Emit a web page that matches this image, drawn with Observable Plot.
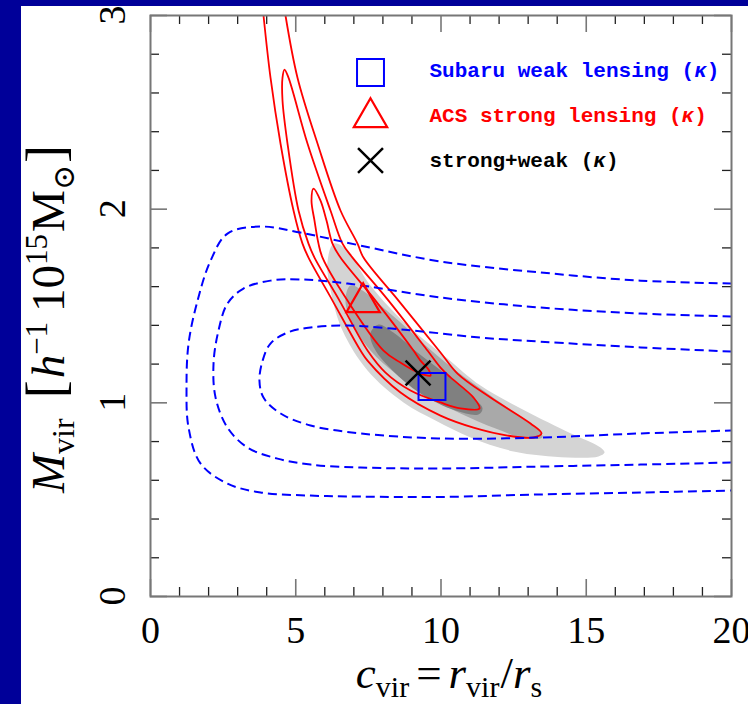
<!DOCTYPE html>
<html>
<head>
<meta charset="utf-8">
<script src="https://cdn.jsdelivr.net/npm/d3@7"></script>
<script src="https://cdn.jsdelivr.net/npm/@observablehq/plot@0.6"></script>
<style>
  html, body { margin: 0; padding: 0; background: #000099; }
  body { width: 748px; height: 704px; overflow: hidden; position: relative; }
  #chart { position: absolute; left: 21px; top: 6px; width: 727px; height: 698px; background: #fff; overflow: hidden; }
  #chart svg { display: block; overflow: hidden; }
</style>
</head>
<body>
<div id="chart"></div>
<script>
// Concentration c_vir vs. virial mass M_vir (h^-1 10^15 M_sun) constraints.

// Axis ticks
const xTicksMajor = [0, 5, 10, 15, 20];
const xTicksMinor = [1, 2, 3, 4, 6, 7, 8, 9, 11, 12, 13, 14, 16, 17, 18, 19];
const yTicksMajor = [0, 1, 2, 3];
const yTicksMinor = [0.2, 0.4, 0.6, 0.8, 1.2, 1.4, 1.6, 1.8, 2.2, 2.4, 2.6, 2.8];

// Joint strong+weak confidence regions (filled), [c_vir, M_vir]
const jointOuter = [[6.30,1.822],[6.71,1.797],[7.57,1.606],[8.85,1.399],[10.22,1.229],[11.36,1.089],[13.08,0.945],[14.63,0.831],[15.49,0.769],[15.63,0.743],[15.42,0.723],[14.35,0.718],[12.50,0.749],[11.02,0.821],[9.81,0.909],[8.71,1.002],[7.47,1.167],[6.61,1.373],[6.20,1.580],[6.09,1.724]];
const jointMiddle = [[6.88,1.606],[7.30,1.580],[7.92,1.502],[8.61,1.415],[9.47,1.296],[10.50,1.167],[11.70,1.038],[12.91,0.909],[13.43,0.847],[13.49,0.821],[12.91,0.816],[11.88,0.867],[10.67,0.945],[9.47,1.038],[8.43,1.151],[7.57,1.270],[6.95,1.409],[6.71,1.528]];
const jointInner = [[7.85,1.404],[8.36,1.363],[9.19,1.260],[10.09,1.156],[11.02,1.038],[11.43,0.971],[11.29,0.940],[10.50,0.960],[9.29,1.048],[8.33,1.167],[7.71,1.280],[7.57,1.358]];

// ACS strong lensing contours (solid red)
const strongOuter = [[3.890,3.0],[4.131,2.679],[4.475,2.339],[4.923,1.993],[5.232,1.822],[5.439,1.750],[6.265,1.528],[7.229,1.270],[7.470,1.218],[8.606,1.053],[9.983,0.934],[11.119,0.872],[12.289,0.831],[13.184,0.821],[13.460,0.842],[13.081,0.893],[11.704,1.027],[10.568,1.151],[9.983,1.260],[8.537,1.528],[7.332,1.750],[7.126,1.822],[6.540,1.993],[5.749,2.339],[5.060,2.679],[4.647,3.0]];
const strongMiddle = [[4.613,2.721],[4.544,2.679],[4.544,2.561],[4.716,2.339],[5.095,1.993],[5.439,1.822],[5.645,1.750],[6.506,1.528],[7.470,1.270],[8.090,1.156],[8.950,1.064],[9.983,1.002],[10.671,0.971],[11.325,0.971],[11.119,1.027],[10.327,1.131],[9.983,1.182],[9.535,1.270],[8.193,1.528],[6.954,1.750],[6.609,1.822],[6.196,1.993],[5.404,2.339],[4.750,2.679]];
const strongInner = [[5.611,2.106],[5.542,2.044],[5.645,1.941],[5.783,1.822],[5.921,1.750],[6.781,1.528],[8.021,1.270],[8.606,1.208],[9.225,1.156],[9.639,1.141],[9.570,1.172],[9.294,1.218],[9.053,1.270],[7.745,1.528],[6.540,1.750],[6.265,1.822],[6.059,1.941],[5.852,2.044]];

// Subaru weak lensing contours (dashed blue)
const weakOuter = [[20,1.616],[16.87,1.631],[13.43,1.673],[9.98,1.730],[7.23,1.812],[5.16,1.879],[3.79,1.910],[2.65,1.874],[2.07,1.735],[1.62,1.528],[1.31,1.306],[1.24,1.079],[1.31,0.872],[1.72,0.687],[2.65,0.583],[3.79,0.537],[5.51,0.521],[7.23,0.516],[9.98,0.514],[13.43,0.527],[16.87,0.537],[20,0.547]];
const weakMiddle = [[20,1.446],[16.87,1.461],[13.43,1.492],[9.98,1.544],[6.78,1.616],[5.16,1.637],[4.13,1.631],[3.20,1.590],[2.65,1.513],[2.34,1.373],[2.17,1.203],[2.24,1.027],[2.65,0.872],[3.34,0.769],[4.37,0.712],[5.51,0.681],[7.23,0.666],[9.98,0.661],[13.43,0.671],[16.87,0.681],[20,0.692]];
const weakInner = [[20,1.265],[16.87,1.286],[13.43,1.316],[11.36,1.337],[9.05,1.373],[6.78,1.399],[5.51,1.389],[4.72,1.363],[4.13,1.306],[3.86,1.218],[3.75,1.115],[3.89,1.027],[4.48,0.945],[5.51,0.883],[7.23,0.842],[9.98,0.816],[13.43,0.821],[16.87,0.842],[20,0.857]];

// Best-fit values per method
const methodLabels = ["Subaru weak lensing (κ)", "ACS strong lensing (κ)", "strong+weak (κ)"];
const bestFitC = [9.69, 7.32, 9.21];
const bestFitM = [1.084, 1.518, 1.154];

// Layout and styles
const W = 727, H = 698, mL = 129, mR = 17, mT = 9, mB = 108;
const innerW = W - mL - mR, innerH = H - mT - mB;
const serif = "'Liberation Serif', 'Times New Roman', serif";
const mono = "'Liberation Mono', 'Courier New', monospace";
const methodStyle = [
  {symbol: "square", color: "#0000ff", r: 15.2, sw: 2},
  {symbol: "triangle", color: "#ff0000", r: 12.4, sw: 2.2},
  {symbol: "times", color: "#000000", r: 11.4, sw: 2.5}
];
const legendSymbolDy = [57, 102, 145];
const legendTextDy = [55, 100, 145];

const cx = d => d[0], my = d => d[1];
const dashed = {stroke: "#0000ff", strokeWidth: 2, strokeDasharray: "9,5", strokeLinecap: "butt", curve: "catmull-rom", clip: true};
const solid = {stroke: "#ff0000", strokeWidth: 1.8, clip: true};

const marks = [
  Plot.line(jointOuter, {x: cx, y: my, fill: "#d4d4d4", stroke: "none", curve: "catmull-rom-closed"}),
  Plot.line(jointMiddle, {x: cx, y: my, fill: "#a9a9a9", stroke: "none", curve: "catmull-rom-closed"}),
  Plot.line(jointInner, {x: cx, y: my, fill: "#808080", stroke: "none", curve: "catmull-rom-closed"}),
  Plot.line(strongOuter, {x: cx, y: my, ...solid, curve: "catmull-rom"}),
  Plot.line(strongMiddle, {x: cx, y: my, ...solid, curve: "catmull-rom-closed"}),
  Plot.line(strongInner, {x: cx, y: my, ...solid, curve: "catmull-rom-closed"}),
  Plot.line(weakOuter, {x: cx, y: my, ...dashed}),
  Plot.line(weakMiddle, {x: cx, y: my, ...dashed}),
  Plot.line(weakInner, {x: cx, y: my, ...dashed}),
  // tick marks, pointing inward on all four sides
  Plot.tickX(xTicksMinor, {x: d => d, stroke: "#222", strokeWidth: 1.3, insetTop: innerH - 9}),
  Plot.tickX(xTicksMinor, {x: d => d, stroke: "#222", strokeWidth: 1.3, insetBottom: innerH - 9}),
  Plot.tickX(xTicksMajor, {x: d => d, stroke: "#777", strokeWidth: 1.6, insetTop: innerH - 17}),
  Plot.tickX(xTicksMajor, {x: d => d, stroke: "#777", strokeWidth: 1.6, insetBottom: innerH - 17}),
  Plot.tickY(yTicksMinor, {y: d => d, stroke: "#222", strokeWidth: 1.3, insetRight: innerW - 9}),
  Plot.tickY(yTicksMinor, {y: d => d, stroke: "#222", strokeWidth: 1.3, insetLeft: innerW - 9}),
  Plot.tickY(yTicksMajor, {y: d => d, stroke: "#777", strokeWidth: 1.6, insetRight: innerW - 17}),
  Plot.tickY(yTicksMajor, {y: d => d, stroke: "#777", strokeWidth: 1.6, insetLeft: innerW - 17}),
  Plot.frame({stroke: "#777", strokeWidth: 2}),
  // tick labels
  Plot.text(xTicksMajor, {x: d => d, text: d => String(d), frameAnchor: "bottom", dy: 34, lineAnchor: "middle", fontSize: 38, fontFamily: serif, fill: "#000"}),
  Plot.text(yTicksMajor, {y: d => d, text: d => String(d), frameAnchor: "left", dx: -38, dy: 9, rotate: -90, lineAnchor: "middle", fontSize: 38, fontFamily: serif, fill: "#000"}),
  // best-fit markers
  ...bestFitC.map((c, i) => Plot.dot([i], {x: () => c, y: () => bestFitM[i], symbol: methodStyle[i].symbol, r: methodStyle[i].r, stroke: methodStyle[i].color, strokeWidth: methodStyle[i].sw, fill: "none"})),
  // legend
  ...methodLabels.map((label, i) => Plot.dot([label], {frameAnchor: "top-left", dx: 220, dy: legendSymbolDy[i], symbol: methodStyle[i].symbol, r: methodStyle[i].r, stroke: methodStyle[i].color, strokeWidth: methodStyle[i].sw, fill: "none"})),
  ...methodLabels.map((label, i) => Plot.text([label], {text: d => d, frameAnchor: "top-left", dx: 279, dy: legendTextDy[i], textAnchor: "start", lineAnchor: "middle", fontSize: 21, fontWeight: "bold", fontFamily: mono, fill: methodStyle[i].color}))
];

const svg = Plot.plot({
  width: W, height: H,
  marginLeft: mL, marginRight: mR, marginTop: mT, marginBottom: mB,
  x: {domain: [0, 20], axis: null},
  y: {domain: [0, 3], axis: null},
  style: {background: "#fff", overflow: "hidden"},
  marks
});

const root = d3.select(svg);

// italic kappa in legend labels
root.selectAll("text").filter(function() { return this.textContent.endsWith("(κ)"); }).each(function() {
  const base = this.textContent.slice(0, -3);
  const t = d3.select(this);
  t.text(base + "(");
  t.append("tspan").attr("font-style", "italic").text("κ");
  t.append("tspan").text(")");
});

// x-axis title: c_vir = r_vir / r_s
const xt = root.append("text").attr("x", 428).attr("y", 682).attr("text-anchor", "middle")
  .attr("font-family", serif).attr("font-size", 45).attr("fill", "#000");
xt.append("tspan").attr("font-style", "italic").text("c");
xt.append("tspan").attr("font-size", 30).attr("dy", 9).text("vir");
xt.append("tspan").attr("dy", -9).attr("dx", 7).text("=");
xt.append("tspan").attr("dx", 7).attr("font-style", "italic").text("r");
xt.append("tspan").attr("font-size", 30).attr("dy", 9).text("vir");
xt.append("tspan").attr("dy", -9).attr("dx", 1).text("/");
xt.append("tspan").attr("font-style", "italic").text("r");
xt.append("tspan").attr("font-size", 30).attr("dy", 9).text("s");

// y-axis title: M_vir [h^-1 10^15 M_sun]
const yt = root.append("text").attr("transform", "translate(43,313) rotate(-90)").attr("text-anchor", "middle")
  .attr("font-family", serif).attr("font-size", 47).attr("fill", "#000");
yt.append("tspan").attr("font-style", "italic").text("M");
yt.append("tspan").attr("font-size", 32).attr("dy", 10).text("vir");
yt.append("tspan").attr("dy", -10).attr("dx", 20).attr("font-size", 54).text("[");
yt.append("tspan").attr("dx", 2).attr("font-style", "italic").text("h");
yt.append("tspan").attr("font-size", 31).attr("dy", -17).text("−1");
yt.append("tspan").attr("dy", 17).attr("dx", 10).text("10");
yt.append("tspan").attr("font-size", 31).attr("dy", -17).text("15");
yt.append("tspan").attr("dy", 17).attr("dx", 2).text("M");
yt.append("tspan").attr("font-size", 30).attr("dy", 10).attr("font-family", "'DejaVu Serif', serif").text("⊙");
yt.append("tspan").attr("dy", -10).attr("dx", 2).attr("font-size", 54).text("]");

document.getElementById("chart").appendChild(svg);
</script>
</body>
</html>
